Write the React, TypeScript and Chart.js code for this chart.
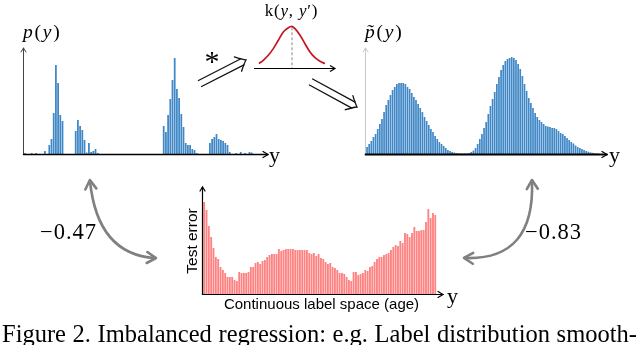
import React, { useEffect, useRef } from "react";
import { Chart, registerables } from "chart.js";
Chart.register(...registerables);

// ---------- data ----------
const rawLabelCounts: number[] = [
  1, 0, 0, 1, 0, 1, 0, 0, 0, 3,
  0, 9, 15, 41, 89, 71, 39, 33, 0, 0,
  0, 0, 0, 23, 34, 28, 24, 14, 1.5, 11,
  2, 3, 5, 1, 0, 0, 0, 0, 0, 0,
  0, 0, 0, 0, 0, 0, 0, 0, 0, 0,
  0, 0, 0, 0, 0, 0, 0, 0, 0, 0,
  0, 0, 0, 28, 22, 39, 55, 74, 96, 65,
  56, 40, 27, 11, 9, 9, 5, 4, 1, 0,
  0, 0, 0, 0, 11, 15, 17, 20, 15, 14,
  13, 11, 9, 2, 0, 0, 1, 0, 2, 0,
  1, 0, 2, 1.5, 0, 0, 0, 0, 0, 0,
];

const smoothedDensity: number[] = [
  7, 10, 13, 17, 20, 25, 30, 35, 42, 49,
  54, 59, 64, 67, 70, 71, 71, 71, 70, 67,
  65, 61, 57, 54, 50, 46, 42, 37, 33, 29,
  25, 22, 18, 15, 12, 10, 8, 6, 4, 3,
  2, 1.5, 1, 0.6, 0.5, 0.4, 0.4, 0.6, 1, 2,
  3.5, 6, 10, 15, 20, 26, 32, 40, 48, 55,
  62, 70, 77, 84, 89, 93, 95, 96, 97, 96,
  94, 90, 85, 78, 70, 63, 56, 51, 46, 41,
  37, 34, 32, 30, 28, 27.5, 27, 26, 26, 25,
  23, 21, 20, 18, 16, 14, 12, 10.5, 8.5, 7,
  6, 5, 4, 3, 2.3, 1.7, 1.2, 0.8, 0.5, 0.3,
];

const testError: number[] = [
  92, 84, 68, 57, 46, 37, 35, 27, 24, 21,
  17, 17, 17, 14, 13, 22, 21, 21, 21, 22,
  27, 27, 31, 32, 30, 33, 34, 37, 39, 40,
  40, 40, 45, 43, 44, 45, 45, 45, 45, 44,
  44, 44, 44, 44, 44, 41, 40, 41, 38, 40,
  36, 35, 32, 30, 31, 27, 26, 24, 21, 21,
  20, 17, 14, 13, 22, 22, 19, 20, 21, 24,
  23, 27, 28, 32, 35, 37, 37, 39, 40, 41,
  44, 47, 49, 48, 53, 51, 61, 60, 57, 61,
  67, 63, 63, 64, 64, 72, 85, 76, 81, 79,
];

const kernelX: number[] = [-33, -28.7, -23.7, -18.7, -13.7, -8.7, -3.7, -0.3, 3, 8, 13, 18, 23, 28, 33];
const kernelY: number[] = [4.4, 7.7, 12.7, 19.4, 27.7, 36, 40.3, 41.7, 39.3, 32.7, 24.3, 16, 10.3, 6.7, 4.4];

const corrLeft = "\u22120.47";
const corrRight = "\u22120.83";
const captionText = "Figure 2. Imbalanced regression: e.g. Label distribution smooth-";
const xAxisLabel = "Continuous label space (age)";
const yAxisLabel = "Test error";

// ---------- helpers ----------
const SERIF = "'Liberation Serif', 'Times New Roman', serif";
const SANS = "'Liberation Sans', Arial, sans-serif";

function arrowHead(ctx: CanvasRenderingContext2D, tx: number, ty: number, dx: number, dy: number, len: number, half: number) {
  const nx = -dy, ny = dx;
  ctx.beginPath();
  ctx.moveTo(tx - dx * len + nx * half, ty - dy * len + ny * half);
  ctx.lineTo(tx, ty);
  ctx.lineTo(tx - dx * len - nx * half, ty - dy * len - ny * half);
  ctx.stroke();
}

const arrowAxes = {
  id: "arrowAxes",
  afterDatasetsDraw(chart: any, _args: any, o: any) {
    const { ctx, chartArea: a } = chart;
    const x0 = a.left - 0.5;
    const y0 = a.bottom + 0.5;
    ctx.save();
    ctx.lineCap = "round";
    ctx.strokeStyle = o.yColor;
    ctx.lineWidth = o.yWidth;
    ctx.beginPath();
    ctx.moveTo(x0, y0);
    ctx.lineTo(x0, a.top);
    ctx.stroke();
    arrowHead(ctx, x0, a.top, 0, -1, 4, 2.5);
    ctx.strokeStyle = o.xColor;
    ctx.lineWidth = o.xWidth;
    ctx.beginPath();
    ctx.moveTo(x0, y0);
    ctx.lineTo(a.right + o.xExtra, y0);
    ctx.stroke();
    ctx.lineWidth = 1.2;
    arrowHead(ctx, a.right + o.xExtra, y0, 1, 0, 5, 3);
    ctx.restore();
  },
};

const kernelDeco = {
  id: "kernelDeco",
  afterDatasetsDraw(chart: any) {
    const { ctx, chartArea: a, scales } = chart;
    const xs = scales.x, ys = scales.y;
    ctx.save();
    const cx = xs.getPixelForValue(0);
    const peak = Math.max(...kernelY);
    ctx.strokeStyle = "#888";
    ctx.lineWidth = 1;
    ctx.setLineDash([3, 2]);
    ctx.beginPath();
    ctx.moveTo(cx, ys.getPixelForValue(peak) + 1);
    ctx.lineTo(cx, a.bottom);
    ctx.stroke();
    ctx.setLineDash([]);
    ctx.strokeStyle = "#000";
    ctx.lineWidth = 1.2;
    ctx.beginPath();
    ctx.moveTo(a.left, a.bottom + 0.5);
    ctx.lineTo(a.right, a.bottom + 0.5);
    ctx.stroke();
    arrowHead(ctx, a.right, a.bottom + 0.5, 1, 0, 5, 3);
    ctx.restore();
  },
};

function barChart(canvas: HTMLCanvasElement, values: number[], color: string, ymax: number, pad: any, axes: any, pct: number) {
  return new Chart(canvas, {
    type: "bar",
    data: {
      labels: values.map((_, i) => String(i)),
      datasets: [{ data: values, backgroundColor: color, borderWidth: 0, barPercentage: pct, categoryPercentage: 1 }],
    },
    options: {
      responsive: false,
      animation: false,
      events: [],
      layout: { padding: pad },
      scales: { x: { display: false }, y: { display: false, min: 0, max: ymax } },
      plugins: { legend: { display: false }, tooltip: { enabled: false }, arrowAxes: axes } as any,
    },
    plugins: [arrowAxes],
  } as any);
}

function drawDoubleArrow(ctx: CanvasRenderingContext2D, sx: number, sy: number, ex: number, ey: number) {
  const L = Math.hypot(ex - sx, ey - sy);
  const dx = (ex - sx) / L, dy = (ey - sy) / L;
  const nx = -dy, ny = dx;
  const g = 3.4;
  ctx.save();
  ctx.strokeStyle = "#111";
  ctx.lineWidth = 1.3;
  ctx.lineCap = "round";
  for (const s of [1, -1]) {
    ctx.beginPath();
    ctx.moveTo(sx + nx * g * s, sy + ny * g * s);
    ctx.lineTo(ex - dx * 4 + nx * g * s, ey - dy * 4 + ny * g * s);
    ctx.stroke();
  }
  ctx.beginPath();
  ctx.moveTo(ex - dx * 9 + nx * 8, ey - dy * 9 + ny * 8);
  ctx.quadraticCurveTo(ex - dx * 3 + nx * 2, ey - dy * 3 + ny * 2, ex, ey);
  ctx.quadraticCurveTo(ex - dx * 3 - nx * 2, ey - dy * 3 - ny * 2, ex - dx * 9 - nx * 8, ey - dy * 9 - ny * 8);
  ctx.stroke();
  ctx.restore();
}

function drawCurvedArrow(ctx: CanvasRenderingContext2D, p0: number[], c: number[], p2: number[]) {
  ctx.save();
  ctx.strokeStyle = "#808080";
  ctx.lineWidth = 2.6;
  ctx.lineCap = "round";
  ctx.lineJoin = "round";
  ctx.beginPath();
  ctx.moveTo(p0[0], p0[1]);
  ctx.quadraticCurveTo(c[0], c[1], p2[0], p2[1]);
  ctx.stroke();
  const heads = [
    [p0, [p0[0] - c[0], p0[1] - c[1]]],
    [p2, [p2[0] - c[0], p2[1] - c[1]]],
  ];
  for (const [p, d] of heads) {
    const L = Math.hypot(d[0], d[1]);
    const dx = d[0] / L, dy = d[1] / L;
    arrowHead(ctx, p[0] + dx, p[1] + dy, dx, dy, 9, 5.5);
  }
  ctx.restore();
}

function Txt(props: { x: number; y: number; size: number; sans?: boolean; center?: boolean; spacing?: number; children: any; style?: any }) {
  const asc = props.sans ? 0.8465 : 0.8375;
  return (
    <div
      style={{
        position: "absolute",
        left: props.x,
        top: props.y - asc * props.size,
        fontSize: props.size,
        lineHeight: `${props.size}px`,
        fontFamily: props.sans ? SANS : SERIF,
        whiteSpace: "nowrap",
        letterSpacing: props.spacing || 0,
        transform: props.center ? "translateX(-50%)" : undefined,
        color: "#000",
        ...(props.style || {}),
      }}
    >
      {props.children}
    </div>
  );
}

export default function App() {
  const c1 = useRef<HTMLCanvasElement>(null);
  const c2 = useRef<HTMLCanvasElement>(null);
  const c3 = useRef<HTMLCanvasElement>(null);
  const ck = useRef<HTMLCanvasElement>(null);
  const deco = useRef<HTMLCanvasElement>(null);

  useEffect(() => {
    const charts: Chart[] = [];
    charts.push(
      barChart(c1.current!, rawLabelCounts, "#3f87c6", 106, { left: 24, right: 24, top: 48, bottom: 21 },
        { yColor: "#444", yWidth: 1, xColor: "#000", xWidth: 1.3, xExtra: 2 }, 0.8)
    );
    charts.push(
      barChart(c2.current!, smoothedDensity, "#3f87c6", 106, { left: 26, right: 40, top: 48, bottom: 21 },
        { yColor: "#c8c8c8", yWidth: 1, xColor: "#000", xWidth: 1.8, xExtra: 7 }, 0.8)
    );
    charts.push(
      barChart(c3.current!, testError, "#ff8282", 107, { left: 23, right: 33.5, top: 17, bottom: 16 },
        { yColor: "#000", yWidth: 1.2, xColor: "#000", xWidth: 1.2, xExtra: 6.5 }, 0.8)
    );
    charts.push(
      new Chart(ck.current!, {
        type: "line",
        data: {
          datasets: [{
            data: kernelX.map((x, i) => ({ x, y: kernelY[i] })),
            borderColor: "#c4161c",
            borderWidth: 1.7,
            pointRadius: 0,
            cubicInterpolationMode: "monotone",
          }],
        },
        options: {
          responsive: false,
          animation: false,
          events: [],
          layout: { padding: { left: 14, right: 15, top: 13, bottom: 12 } },
          scales: { x: { type: "linear", display: false, min: -38, max: 43 }, y: { display: false, min: 0, max: 45 } },
          plugins: { legend: { display: false }, tooltip: { enabled: false } },
        },
        plugins: [kernelDeco],
      } as any)
    );

    const ctx = deco.current!.getContext("2d")!;
    ctx.clearRect(0, 0, 640, 345);
    drawDoubleArrow(ctx, 200, 83.5, 246, 60);
    drawDoubleArrow(ctx, 311, 82, 357, 107);
    drawCurvedArrow(ctx, [90, 181], [97.5, 254.5], [155, 258]);
    drawCurvedArrow(ctx, [532, 181], [535, 260.5], [465, 258]);

    return () => charts.forEach((c) => c.destroy());
  }, []);

  const abs = (l: number, t: number): any => ({ position: "absolute", left: l, top: t });

  return (
    <div style={{ position: "fixed", left: 0, top: 0, width: 640, height: 345, overflow: "hidden", background: "#fff" }}>
      <canvas ref={deco} width={640} height={345} style={abs(0, 0)} />
      <div style={abs(0, 0)}><canvas ref={c1} width={290} height={175} /></div>
      <div style={abs(340, 0)}><canvas ref={c2} width={300} height={175} /></div>
      <div style={abs(180, 170)}><canvas ref={c3} width={290} height={140} /></div>
      <div style={abs(240, 10)}><canvas ref={ck} width={110} height={70} /></div>

      <Txt x={23} y={38.5} size={19.5} spacing={1.8}><i>p</i>(<i>y</i>)</Txt>
      <Txt x={365} y={38.5} size={19.5} spacing={1.8}><i>p̃</i>(<i>y</i>)</Txt>
      <Txt x={291.5} y={16.5} size={17} center spacing={0.8}>k(<i>y</i>, <i>y</i>′)</Txt>
      <Txt x={212} y={71} size={30} center>*</Txt>
      <Txt x={269} y={162} size={22}>y</Txt>
      <Txt x={609} y={162} size={22}>y</Txt>
      <Txt x={447} y={303} size={22}>y</Txt>
      <Txt x={40} y={240} size={22.5} spacing={1}>{corrLeft}</Txt>
      <Txt x={525} y={240} size={22.5} spacing={1}>{corrRight}</Txt>
      <div
        style={{
          position: "absolute",
          left: 191.5,
          top: 241,
          fontSize: 15.5,
          lineHeight: "15.5px",
          fontFamily: SANS,
          whiteSpace: "nowrap",
          transform: "translate(-50%, -50%) rotate(-90deg)",
        }}
      >
        {yAxisLabel}
      </div>
      <Txt x={321.5} y={309} size={15} sans center>{xAxisLabel}</Txt>
      <Txt x={2} y={343} size={24.5} style={{ wordSpacing: 0.5 }}>{captionText}</Txt>
    </div>
  );
}
